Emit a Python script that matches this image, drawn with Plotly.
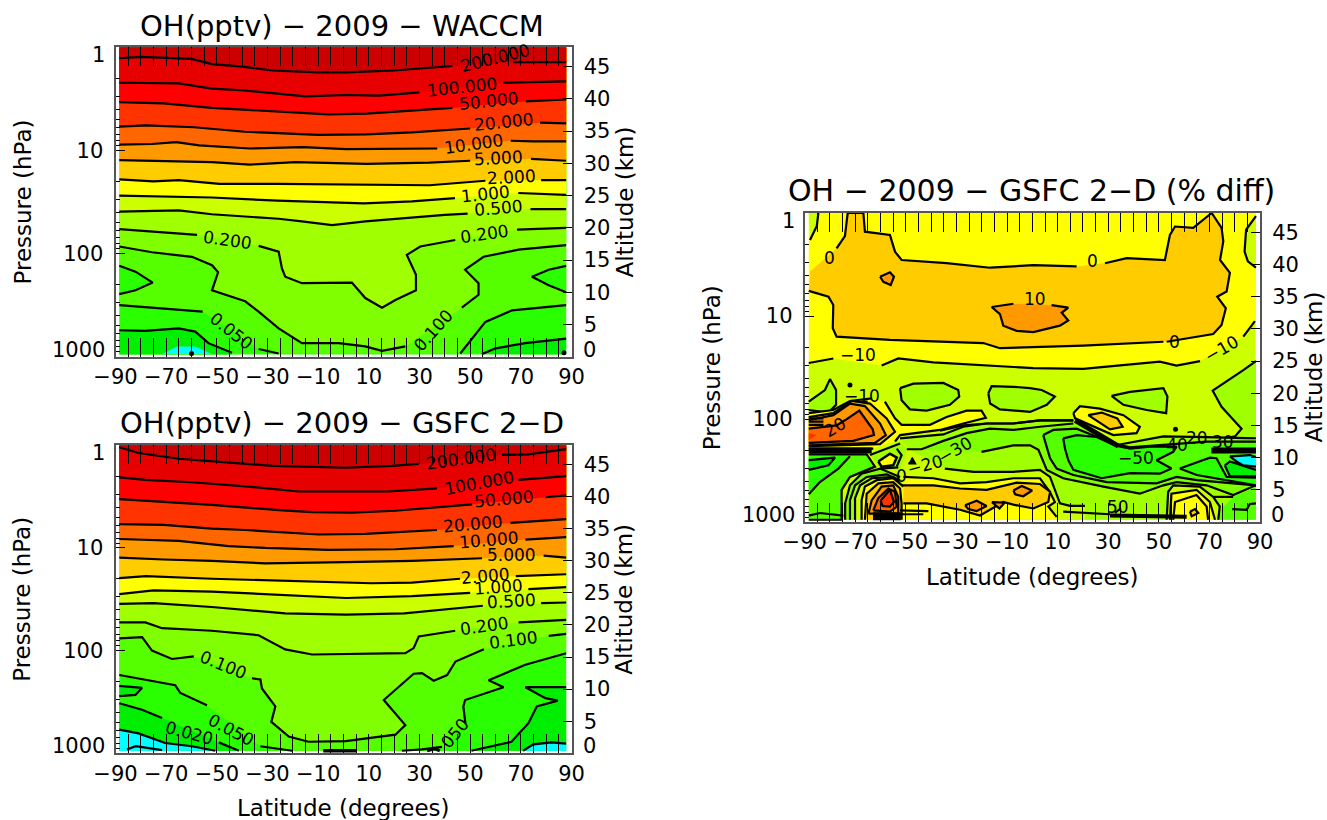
import plotly.graph_objects as go

W, H = 1327, 820
# ---------- isolines: (latitude, altitude km); None = gap for a label ----------
W_200 = [(-88.5,46.3),(-80,46.5),(-60,46.2),(-51.9,45.4),(-40,45),(-28,44.4),(-10,44.1),(1,44.1),(20,44.4),(43,45.1),None,(67,45.7),(87.9,45.7)]
W_100 = [(-88.5,42.5),(-65,42.4),(-52,41.6),(-39,41.3),(-26,40.8),(-15,40.4),(1,40.6),(14,40.5),(30,41),None,(63,42.5),(80,42.6),(87.9,42.7)]
W_50 = [(-88.5,39.5),(-71,39.3),(-52,38.6),(-39,38.3),(-19,37.9),(-6,37.6),(9,37.7),(27,38.2),(43,38.6),None,(72,39.6),(80,39.8),(87.9,39.9)]
W_20 = [(-88.5,35.7),(-78,35.9),(-59,35.6),(-39,34.9),(-10,34.4),(9,34.5),(27,34.8),(50,35.4),None,(77.6,36.3),(87.9,36.2)]
W_10 = [(-88.5,32.9),(-75.6,33),(-66,33.3),(-57,32.8),(-37,32.3),(-26,32.4),(-16,32.5),(1,32.2),(22,32.2),(37,32.3),None,(66,33.5),(75,33.4),(87.9,33.4)]
W_5 = [(-88.5,30.5),(-71,30.4),(-52,30.2),(-37,29.8),(-19,30.2),(9,29.9),(34,30.1),(50,30.4),None,(74,30.7),(87.9,30.4)]
W_2 = [(-88.5,27.5),(-75,27.2),(-65,27.4),(-49,26.8),(-26,26.8),(8,26.7),(34,26.6),(56,27.3),None,(78,27.4),(87.9,27.4)]
W_1 = [(-88.5,25),(-70,24.9),(-52,24.7),(-26,24.2),(8,23.8),(27,24.1),(44,24.6),None,(69,25.4),(87.9,25.1)]
W_05 = [(-88.5,22.5),(-75.6,22.6),(-65,22.7),(-52,22.1),(-38.8,21.7),(-25.6,21.4),(-16.4,21),(-4.5,20.4),(8.6,21),(27,21.6),(40,22),(49,22.2),None,(73.8,22.9),(87.9,22.9)]
W_02 = [(-88.5,19.8),(-75.6,19.4),(-57.8,18.9),None,(-33.5,17.2),(-25.6,16.3),(-24.3,13.7),(-23,12.4),(-16.4,11.4),(-5.9,11.4),(3.3,11.5),(8.6,9.1),(15.2,7.6),(20.5,8.8),(28.6,10.3),(28.6,12.7),(25,15.8),(30.3,17.1),(44.1,18.1),None,(68.5,19.7),(87.9,20)]
W_01 = [(-88.5,17.1),(-75.6,16.2),(-59.8,15.5),(-51.9,14.2),(-49.5,13.1),(-51.9,10.3),(-38.8,8.6),(-33.5,7),(-25.6,4.4),(-16.4,2.1),(-1.9,2.1),(8.6,1.6),(15.2,0.9),(24.4,1.6),None,(46.7,7.6),(53.3,9.6),(53.3,11.4),(48,13.5),(55.3,15.5),(69.1,16.6),(87.9,17.3)]
W_005 = [(-88.5,8),(-74,7.6),(-55.6,7),None,(-33.5,1.2),(-25.6,0.5),None,(46.1,0.5),(50.7,2.8),(56,5.4),(66.6,7.2),(87.9,8)]
W_BLOB_L = [(-88.5,14.1),(-82.1,13.2),(-75.3,11.5),(-82.1,10.3),(-88.5,9.7)]
W_BLOB_R = [(87.9,14.1),(81,13.5),(74.4,12.4),(81,11.1),(87.9,10)]
W_002_L = [(-88.5,4.1),(-78.3,4),(-65,4.4),(-58.5,3.9),(-53.3,2.1),(-44,0.6)]
W_002_R = [(54.6,0.4),(60,1.3),(71.7,2.1),(87.9,2.8)]
W_001 = [(-71.6,0.4),(-65.7,1.6),(-58.5,1.6),(-51.9,0.4)]
W_DOTS = [(-60,0.5),(87,0.6)]

G_200 = [(-88.5,47.7),(-80.9,46.8),(-65,45.9),(-45.3,45.3),(-28,44.8),(0.9,44.5),(19.2,44.8),(29.7,45.1),None,(62.6,46.5),(73,46.6),(87.9,47.4)]
G_100 = [(-88.5,43),(-78.2,42.6),(-58.5,42.2),(-38.8,41.6),(-17.7,40.8),(17.8,40.8),(36.9,41.3),None,(69.1,42.6),(87.9,43.2)]
G_50 = [(-88.5,39.6),(-71,39.2),(-52,38.7),(-25.6,37.9),(-12.4,37.6),(3.4,37.5),(20.5,37.8),(50.8,38.8),None,(79.8,39.9),(87.9,40.2)]
G_20 = [(-88.5,35.7),(-71,35.6),(-52,35),(-38.8,34.8),(-9.9,34.1),(8.6,34.2),(36.9,34.8),None,(65.9,35.9),(87.9,36.5)]
G_10 = [(-88.5,33.4),(-65,33.1),(-45.3,32.3),(-30.9,32),(-5.9,31.7),(20.5,31.8),(43.5,32.3),None,(71.8,33.3),(87.9,33.7)]
G_5 = [(-88.5,30.5),(-71,30.2),(-52,30),(-30.9,29.6),(0.8,29.8),(27.1,30),(54.7,30.4),None,(79,30.8),(87.9,30.5)]
G_2 = [(-88.5,27.3),(-78,27.6),(-52,27.2),(-26,26.9),(11,26.5),(27,26.6),(46,27.2),None,(68,27.6),(87.9,27.9)]
G_1 = [(-88.5,24.8),(-75,25.4),(-52,25.2),(-26,24.7),(1,24.2),(27,24.5),(50,25),None,(73,25.6),(87.9,25.9)]
G_05 = [(-88.5,23.3),(-75,23.4),(-52,22.8),(-23,21.8),(1,21.6),(24,21.8),(55,23),None,(78,23.4),(87.9,23.5)]
G_02 = [(-88.5,20.4),(-78.2,20.4),(-71.6,19.5),(-52,19.1),(-33.5,18.4),(-23,16.2),(-12.4,15.4),(24.4,15.6),(27.7,16.4),(29.7,18.2),(44.1,19.1),None,(69.1,20.4),(87.9,20.8)]
G_01 = [(-88.5,17.9),(-79.5,18.1),(-75.6,16),(-67.7,14.7),(-59.1,15.1),None,(-36.1,11.7),(-32.8,11.5),(-32.2,10.1),(-26.9,7.3),(-28.5,4.9),(-21.6,2.6),(-13.8,1.8),(0.8,1.9),(20.5,2.9),(24.4,4.4),(15.9,8.3),(27.7,12.4),(31,12.5),(35.6,11.3),(40.9,12.2),(44.2,14.3),(55.4,16.2),None,(81,18.3),(87.9,18.6)]
G_005 = [(-88.5,12.2),(-78.2,11.4),(-66.4,10.6),(-64.4,9.4),(-53.9,7.5),None,(-32.8,1.1),(-20.3,0.4),None,(23,0.4),(31,0.6),(38.9,1),None,(48.1,4.7),(47.3,7.3),(48,8.3),(63.2,10.3),(57.3,11.4),(71.8,13.8),(87.9,15.6)]
G_BLOB = [(-88.5,10.5),(-79.5,10.2),(-82.1,9.1),(-88.5,8.9)]
G_002_L = [(-88.5,7.8),(-79.5,6.8),(-71.6,5.5),None,(-49.2,1.7),(-41.3,0.4)]
G_002_R = [(87.9,10.3),(71.8,10.3),(79.7,8.6),(84.6,8.2),(76.3,7.3),(73,4.7),(66.3,1.8),(50.5,0.4)]
G_001_L = [(-88.5,3.7),(-80.9,3.1),(-70.4,1.6),(-59.9,1.1),(-50.6,0.4)]
G_001_R = [(70.9,0.4),(74.9,1.4),(82.2,1.7),(87.9,1.5)]
G_INNER = [(-85.5,0.6),(-82,1.1),(-71.6,0.5)]
G_FLOOR = [(-8,0.4),(5,0.4)]
G_FLOOR2 = [(33,0.4),(36,0.7),(38,0.4)]

D_0 = [(-87.9,38.9),None,(-77.4,42.5),(-74.1,44.4),(-73,48),(-66.8,48),(-66.2,45.1),(-56.3,44.6),(-54.3,42),(-51.7,40.7),(-33.9,40.2),(-16.7,39.5),(0.4,39.9),(17.5,39.7),None,(28.7,40.2),(37.3,41),(52.4,40.7),(54.4,44.6),(56.4,45.9),(63.6,45.7),(70.9,48),(74.8,45.7),(75.5,43.6),(74.2,40.7),(78.1,38.7),(76.8,35.8),(73.1,35),(76.5,33.2),(74.8,30.6),(71.5,29.2),(53.1,28),None,(51.8,28),(20.1,27.4),(-12.8,27),(-19.4,27.8),(-56.3,28.3),(-77.4,28.8),(-78.9,30.1),(-78.7,33.7),(-80.6,35),(-88.4,35.9)]
D_10 = [(-16.1,33.4),(-7.5,33.9),None,(7.6,33.7),(14.2,33.3),(11.6,32.5),(14.2,31.3),(10.9,30.5),(0.4,29.5),(-6.2,29.7),(-11.5,30.5),(-12.8,32.3),(-16.1,33.4)]
D_SMALL = [(-60.2,38.1),(-56.3,38.8),(-54.7,38.1),(-56,36.8),(-58.9,37.3),(-60.2,38.1)]
D_M10 = [(-88.4,24.7),(-78.7,25.4),None,(-59.6,24.3),(-53,25.4),(-39.1,24.8),(-26,24.5),(0.4,23.9),(20.1,23.8),(50.4,24.9),(57,24.3),(66.3,25),None,(83.4,28.8),(88,31.2)]
D_CORNER_L = [(-84.6,48),(-85.2,46),(-87.9,43.8)]
D_CORNER_R = [(88.4,47.5),(84.5,45.4),(83.9,42),(85.2,40.5),(88.4,39.5)]
D_A = [(-52.3,20.8),(-47,21.5),(-35.2,21.6),(-29.3,20.5),(-28.9,19.5),(-32.6,18.2),(-41.8,17.3),(-48.4,17.5),(-51.7,18.9),(-52.3,20.8)]
D_B = [(-17.4,20),(-16.1,21.1),(-7.5,21),(-0.9,20.8),(3.7,20.5),(8.9,19.5),(5.7,18.2),(-0.9,17.1),(-12.8,17.5),(-16.7,18.4),(-17.4,20)]
D_C = [(31.3,19.6),(38.6,20.2),(51.8,20.8),(53.4,19.5),(52.9,16.9),(45.2,17.4),(36,18.2),(31.3,19.6)]
D_D = [(88.4,25),(83.4,23.6),(71.3,20.4),(74.8,17.9),(82.7,14.5),(80.1,13.3),(70.2,12.5)]
D_LEFT = [(-88.4,18.7),(-82,20.5),(-80,22.2),(-77.6,20.5),(-77.6,18.2),(-80.6,17),(-88.4,17.4)]
D_LOBE = [(-58.3,18.7),(-54.3,16.1),(-51.7,15.1),(-40.5,15.1),(-33.9,16.3),(-26,17.3),(-20.1,17.3),(-18.4,16.2),(-27.3,15.3),(-36.5,14.3),(-52.3,13.5),(-54.3,12.5),None,(-62.9,11.4),(-88.4,11.4),None,(-88.4,16.9),(-78.7,17.4),(-72.1,18.8),(-63.5,19.2)]
D_M1 = [(-52.3,13),(-35.2,13.6),(-27.3,14.8),(-18.1,15.3),(-7.5,15.3),(3,15.8),(16.2,15.8),None,(34,12),(51.8,13.3),(68.9,13.2),(88.4,13)]
D_M1_CLOSE = [(88.4,0.35),(9.6,0.35),(5,5),(-34.6,8.3),(-48.4,11.2)]
D_M1B = [(-49.7,11.3),(-43.8,11.3),(-35.2,12.6),(-26,13.8),(-16.8,14.5),(-7.5,14.3),(3,14.8),(16.2,15.3),None,(34.6,11.8),None,(88.4,12.8),None,(88.4,5.7),(79.4,4.2),(68.9,5.7),(57,6.2),(51.8,5.7),(42.5,4.4),(28.1,5.5),(12.2,6.8),(5.7,8.1),(2.4,11.2),(-0.9,11.9),(-7.5,11.9),(-20.1,10.9)]
D_B2 = [(4.3,13.5),(8.3,14.3),(17.5,14.5),(32,12.2),(38.6,11.6),(68.9,12.5),(88.4,12.5),None,(88.4,5.7),(65,6.5),(57,7),(49.1,6),(29.4,6.2),(16.2,7.3),(9.6,8.3),(7,9.9),(4.3,13.5)]
D_C2 = [(12.2,13),(17.5,13.5),(25.4,13.2),(32.6,11.9),(38.6,11.4),(46.5,11.7),(57,11.7),(55.7,10.9),(49.1,9.6),(55,8.3),(50.4,7.5),(38.6,7.6),(27.4,6.8),(16.2,8.1),(14.2,9.6),(12.9,11.4),(12.2,13)]
D_E = [(58.3,8.3),(70.2,10),(72.8,9.9),(76.8,7),(88.4,6.9),None,(88.4,5.7),(72.8,6.8),(65,7.3),(58.3,8.3)]
D_DARK = [(76.1,8.8),(78.1,9.4),(88.4,8.1),None,(88.4,7.1),(78.1,7.1),(76.1,8.8)]
D_CYAN = [(78.1,10.2),(86,10.4),(88.4,10.1),None,(88.4,8.6),(83.4,8.8),(80.7,9.4),(78.1,10.2)]
D_EL_Y = [(16.2,16.9),(18.8,18),(26.7,17.6),(36,16.6),(42.5,14.8),(41.2,13.8),(32,13.5),(22.8,15.1),(16.9,16.1),(16.2,16.9)]
D_EL_O = [(22.1,16.6),(27.4,17),(33.6,16.1),(35.7,14.8),(30.7,14.4),(22.1,16.6)]
D_HATCH = [(16.9,15.8),(34,11.8)]
D_T1B = [(-36.5,14.2),(-27.3,15),(-18.1,15.3),(-7.5,15.3),(3,15.8),(16.2,15.8)]
D_GR = [(79.4,3.9),(88.4,5.5),(88.4,0.35),(72.8,0.35),(75.5,2.4),(79.4,3.9)]
D_S1 = [(-34.6,8.3),(-23.2,7.8),(-7.5,7.8),(3,8.1),(7,7),(10.9,2.9),(14.9,2.5),(20.8,2.5)]
D_S1_CLOSE = [(20.8,0.35),(-52.3,0.35),(-52.3,7.5)]
D_S2 = [(-51,7),(-39.1,6.8),(-28.6,6),(-18.1,6.2),(-7.5,6.8),(3,6.8),(6.9,4.7),(8.9,3.1),(6.3,2.4),(9.6,0.8)]
D_S2_CLOSE = [(9.6,0.35),(-52.3,0.35)]
D_OR = [(-52.3,5.7),(-39.1,5.7),(-28.6,5.2),(-18.1,5),(-6.2,6.1),(3,5.9),(3.7,5.7),(7,4.7),(6.3,3.1),(0.4,2.1),(-7.5,2.7),(-11.5,3.1),(-20.7,1),(-28.6,1.9),(-41.8,2.9),(-52.3,2.9)]
D_OR_1 = [(-7.5,4.9),(-4.2,5.6),(-0.1,4.9),(-3.6,4),(-6.8,4.3),(-7.5,4.9)]
D_OR_2 = [(-26.6,2.6),(-22,3.3),(-18.1,2.5),(-22,1.7),(-25.3,2),(-26.6,2.6)]
D_OR_3 = [(-16,3.1),(-11,3),(-13,2.1),(-16,3.1)]
D_R0 = [(-88.4,10.5),(-65.5,10.5),(-62.2,8.6),(-72.1,7),(-75.4,5),(-75.4,1.9),(-75.4,0.35),(-88.4,0.35)]
D_R1 = [(-72.1,10.2),(-76.7,8.3),(-84,6.2),(-88.4,4.3),None,(-88.4,10.2)]
D_R1D = [(-88.4,9.6),(-78,10),(-80.6,8.8),(-88.4,8.1)]
D_R2 = [(-74,0.35),(-74,2.9),(-72.1,5.7),(-67.5,7.5),(-60.2,8.3),(-52.3,7),None,(-52.3,0.35)]
D_R3 = [(-72.1,0.35),(-72.1,3.4),(-70.1,5.7),(-65.5,7),(-57.6,7.4),(-52.3,6.5),None,(-52.3,0.35)]
D_R4 = [(-70.1,0.35),(-70.1,3.7),(-68.1,5.7),(-63.5,6.8),(-55,7),(-51.7,5.7),None,(-51.7,0.35)]
D_R5 = [(-67.5,0.35),(-67.5,3.4),(-66.2,5.5),(-61.5,6.5),(-55,6.8),(-51,5.5),None,(-51,0.35)]
D_R6 = [(-66.2,0.35),(-65.5,4.4),(-60.9,6),(-55,6.2),(-52.3,5.2),(-51.7,2.9),(-51.7,0.35)]
D_R7 = [(-64.8,1.3),(-63.5,3.4),(-59.6,5.5),(-55,5.7),(-53,3.9),(-53,1.3),(-64.8,1.3)]
D_R8 = [(-62.9,1.8),(-60.9,3.7),(-56.9,5.2),(-54.3,4.7),(-53.6,2.4),(-56.3,1.6),(-62.9,1.8)]
D_R9 = [(-60,3.3),(-56.3,5),(-54.7,3.1),(-56.3,2.4),(-59.2,2.5),(-60,3.3)]
D_PATCH = [(-64.2,10.5),(-52.3,12.5),(-49.7,11.3),(-52.3,8),(-60.2,8.3)]
D_DIAMOND = [(-60.9,9.4),(-56.3,10.6),(-53.6,10),(-55,8.8),(-59.6,8.6),(-60.9,9.4)]
D_BAND_L = [(-88.4,11.1),(-63.5,11.1)]
D_BAND_R = [(70.8,11.1),(88.4,11.1)]
D_DASH = [[(-88.4,16.1),(-82.6,16.1)],[(-88.4,15.6),(-82.6,15.6)],[(-88.4,15.1),(-82.6,15.1)],[(-52.3,1.8),(-41.1,1.7)],[(-52.3,1.2),(-43.1,1.2)],[(-88.4,1),(-84,1.4),(-74.7,1)],[(12.2,1.6),(30.7,1.2)],[(-53.6,11.4),(-51.7,10.4),(-53.6,8.6)],[(-64.2,10.4),(-52.3,12.2)],[(-60.2,8.3),(-53,8.5)],[(79,2),(84.7,1.9),(86,2.8),(88.4,2.9)],[(71.5,3.9),(79.4,3.9)],[(32.6,1.4),(35,2.1)]]
D_BOX0 = [(53.1,0.35),(53.7,4.7),(55.7,5.7),(66.2,5.5),(71.5,3.9),(74.1,2.4),(73.5,0.35)]
D_BOX1 = [(54.4,0.35),(55,4.4),(64.9,5),(70.2,3.1),(72.2,0.35)]
D_BOX2 = [(55.7,0.35),(56.4,3.1),(64.9,4.2),(68.9,2.4),(69.5,0.35)]
D_BOX3 = [(62.3,1.6),(64.3,2),(65.6,1.4),(63,0.9),(62.3,1.6)]
D_THICK = [(30.7,1),(61,0.8)]
D_FLOOR = [(-63,0.9),(-52,0.9)]
D_TRI = [(-49,9.1),(-46.4,9.1),(-47.7,10)]
D_DOTS = [(-72.1,21.3),(56.6,14.4)]
D_TONGUE_O3 = [(-88.4,16.3),(-78.7,16.9),(-71.4,18.8),(-64.2,18.4),(-57.6,16.1),(-54.3,14),(-60.2,12.1),(-88.4,11.8)]
D_TONGUE_O2 = [(-88.4,15.8),(-78.7,16.6),(-72.1,18.4),(-66.2,18),(-60.2,15.3),(-57.9,13.5),(-62.2,12.3),(-88.4,11.9)]
D_TONGUE_O1 = [(-88.4,14.5),(-77.4,15),(-74.1,15.8),(-68.4,17.3),(-63.1,14.4),(-62.6,13.5),(-70.8,12.6),(-88.4,12.3)]
D_TONGUE_R3 = [(-88.4,13.8),(-85.3,13.5),(-88.4,12.7)]

# contour labels: (text, latitude, altitude km, angle)
W_LABELS = [("200.000",59.9,46.3,-14),("100.000",46.8,41.8,-6),("50.000",57.3,39.6,-6),("20.000",63.2,36.4,-6),("10.000",51.4,33,-8),("5.000",61,30.9,-3),("2.000",66.5,27.9,-3),("1.000",56.2,25.3,-6),("0.500",61,23.1,-5),("0.200",-45.7,18.1,8),("0.200",55.7,19.1,-8),("0.100",35.6,4.1,-48),("0.050",-44.3,4,38)]
G_LABELS = [("200.000",46.5,45.8,-8),("100.000",53.4,42.2,-10),("50.000",63.2,39.7,-5),("20.000",51,35.8,-5),("10.000",57.3,33.3,-5),("5.000",66.2,30.9,0),("2.000",56,27.6,-5),("1.000",61.2,25.9,-4),("0.500",66.2,23.8,-3),("0.200",55.7,19.8,-8),("0.100",67.2,17.7,-7),("0.100",-47.3,13.8,22),("0.050",-44.3,3.7,28),("0.020",-60.9,3.2,15),("050",44.1,3.1,-50)]
D_LABELS = [("0",-80.3,41,0),("0",23.6,40.6,0),("10",1,34.6,0),("0",56,27.9,0),("−10",-68.8,25.9,0),("−10",74.8,26.8,-30),("−10",-67.5,19.6,0),("20",-78,14.8,-30),("−20",-42.4,8.9,-15),("−30",-30.6,11.2,-30),("0",-51.7,7.1,0),("−40",54.4,12,0),("−50",41,10,0),("20",65,13,0),("30",75.5,12.5,0),("50",34,2.4,0)]

LAT_TICKS = list(range(-90, 91, 10))
LAT_TEXT = [("−" if v < 0 else "") + str(abs(v)) if (v + 90) % 20 == 0 else "" for v in LAT_TICKS]
ALT_TICKS = [5,10,15,20,25,30,35,40,45]
P_MAJOR = [1,10,100,1000]
P_MINOR = [m*d for d in (1,10,100) for m in range(2,10)]

C = {"dr":"#cc0000","r1":"#e60000","r2":"#ff0000","r3":"#ff3300","o1":"#ff6600","o2":"#ff9900","o3":"#ffcc00","y":"#ffff00",
     "l1":"#ccff00","l2":"#a0ff00","g1":"#80ff00","g2":"#55ff00","g3":"#2aff00","g4":"#00ee00","c":"#00ffff"}
FONT = "DejaVu Sans"

fig = go.Figure()
layout = {}
def px_x(a): return a/W
def px_y(b): return 1-b/H
def alt(n): return f"y{2*n-1}"
def prs(n): return f"y{2*n}"

PANELS = [
    dict(n=1, x0=115.5,x1=571.5,y0=47.3,y1=356.7,title="OH(pptv) − 2009 − WACCM",tx=342,ty=26,ts=29,xtitle=False),
    dict(n=2, x0=115.5,x1=571.5,y0=445.3,y1=753.3,title="OH(pptv) − 2009 − GSFC 2−D",tx=342,ty=423,ts=29,xtitle=True),
    dict(n=3, x0=804.7,x1=1260,y0=213,y1=522,title="OH − 2009 − GSFC 2−D (% diff)",tx=1031,ty=190,ts=30,xtitle=True),
]
anns = []
AF = dict(family=FONT,size=23,color="black")
TF = dict(family=FONT,size=21,color="black")
CM = dict(xanchor="center", yanchor="middle", showarrow=False)
TICK = dict(tickcolor="black", tickwidth=1.2)
for p in PANELS:
    n = p["n"]; xn = f"xaxis{n}"; ya = f"yaxis{2*n-1}"; yp = f"yaxis{2*n}"
    xdom = [px_x(p["x0"]), px_x(p["x1"])]
    ymid = (p["y0"]+p["y1"])/2
    layout[xn] = dict(domain=xdom, range=[-90,90], anchor=alt(n), tickmode="array", tickvals=LAT_TICKS, ticktext=LAT_TEXT,
        ticks="inside", ticklen=19, mirror="allticks", showline=True, linecolor="#555", linewidth=2,
        showgrid=False, zeroline=False, tickfont=TF, tickangle=0, automargin=False,
        minor=dict(tick0=-90, dtick=5, ticks="inside", ticklen=10, showgrid=False, **TICK), **TICK)
    layout[ya] = dict(domain=[px_y(p["y1"]), px_y(p["y0"])], range=[0,48], anchor=f"x{n}", side="right", tickmode="array",
        tickvals=ALT_TICKS, ticks="inside", ticklen=9, showline=True, linecolor="#555", linewidth=2,
        showgrid=False, zeroline=False, tickfont=TF, ticklabelstandoff=6, automargin=False, **TICK)
    layout[yp] = dict(domain=[px_y(p["y1"]), px_y(p["y0"])], type="log", range=[3,0], anchor=f"x{n}", side="left", tickmode="array",
        tickvals=P_MAJOR, ticktext=["","10","100",""], ticks="inside", ticklen=9, showline=True, linecolor="#555", linewidth=2,
        showgrid=False, zeroline=False, tickfont=TF, ticklabelstandoff=6, automargin=False,
        minor=dict(tickmode="array", tickvals=P_MINOR, ticks="inside", ticklen=4, showgrid=False, **TICK), **TICK)
    anns.append(dict(text=p["title"], x=px_x(p["tx"]), y=px_y(p["ty"]), xref="paper", yref="paper", font=dict(family=FONT,size=p["ts"],color="black"), **CM))
    anns.append(dict(text="Pressure (hPa)", x=px_x(p["x0"]-93), y=px_y(ymid), xref="paper", yref="paper", textangle=-90, font=AF, **CM))
    anns.append(dict(text="Altitude (km)", x=px_x(p["x1"]+53), y=px_y(ymid), xref="paper", yref="paper", textangle=-90, font=AF, **CM))
    if p["xtitle"]:
        anns.append(dict(text="Latitude (degrees)", x=px_x((p["x0"]+p["x1"])/2), y=px_y(p["y1"]+55), xref="paper", yref="paper", font=AF, **CM))
    anns.append(dict(text="1", x=px_x(p["x0"]-8), y=46.8, xref="paper", yref=alt(n), xanchor="right", yanchor="middle", showarrow=False, font=TF))
    anns.append(dict(text="1000", x=px_x(p["x0"]-8), y=1.1, xref="paper", yref=alt(n), xanchor="right", yanchor="middle", showarrow=False, font=TF))
    anns.append(dict(text="0", x=px_x(p["x1"]+9), y=1.1, xref="paper", yref=alt(n), xanchor="left", yanchor="middle", showarrow=False, font=TF))

def draw(n, pts, fill=None, close=(), line=True, lw=2.2):
    xa, ya = f"x{n}", alt(n)
    if fill:
        solid = [q for q in pts if q is not None] + list(close)
        fig.add_trace(go.Scatter(x=[q[0] for q in solid], y=[q[1] for q in solid], mode="lines", fill="toself", fillcolor=fill,
            line=dict(width=0, color=fill), xaxis=xa, yaxis=ya, showlegend=False, hoverinfo="skip"))
    if line:
        fig.add_trace(go.Scatter(x=[q[0] if q else None for q in pts], y=[q[1] if q else None for q in pts], mode="lines",
            line=dict(width=lw, color="black"), xaxis=xa, yaxis=ya, showlegend=False, hoverinfo="skip", connectgaps=False))

def rect(n, l, r, color):
    draw(n, [(l,0.36),(r,0.36),(r,48),(l,48)], fill=color, line=False)

def dots(n, pts):
    fig.add_trace(go.Scatter(x=[q[0] for q in pts], y=[q[1] for q in pts], mode="markers", marker=dict(size=5,color="black"),
        xaxis=f"x{n}", yaxis=alt(n), showlegend=False, hoverinfo="skip"))

# ---------- panel 1 ----------
L, R = -88.5, 87.9
TOP = [(R,48),(L,48)]
rect(1, L, R, C["g3"])
for pts, col in [(W_005,C["g2"]),(W_01,C["g1"]),(W_02,C["l2"]),(W_05,C["l1"]),(W_1,C["y"]),(W_2,C["o3"]),(W_5,C["o2"]),(W_10,C["o1"]),(W_20,C["r3"]),(W_50,C["r2"]),(W_100,C["r1"]),(W_200,C["dr"])]:
    draw(1, pts, fill=col, close=TOP)
draw(1, W_BLOB_L, fill=C["g3"]); draw(1, W_BLOB_R, fill=C["g3"])
draw(1, W_002_L, fill=C["g4"], close=[(-44,0.36),(L,0.36)])
draw(1, W_002_R, fill=C["g4"], close=[(R,0.36)])
draw(1, W_001, fill=C["c"], line=False)
dots(1, W_DOTS)

# ---------- panel 2 ----------
rect(2, L, R, C["g3"])
for pts, col in [(G_005,C["g2"]),(G_01,C["g1"]),(G_02,C["l2"]),(G_05,C["l1"]),(G_1,C["y"]),(G_2,C["o3"]),(G_5,C["o2"]),(G_10,C["o1"]),(G_20,C["r3"]),(G_50,C["r2"]),(G_100,C["r1"]),(G_200,C["dr"])]:
    draw(2, pts, fill=col, close=TOP)
draw(2, G_BLOB, fill=C["g4"])
draw(2, G_002_L, fill=C["g4"], close=[(-41.3,0.36),(L,0.36)])
draw(2, G_002_R, fill=C["g4"], close=[(R,0.36)])
draw(2, G_001_L, fill=C["c"], close=[(L,0.36)])
draw(2, G_001_R, fill=C["c"], close=[(R,0.36)])
draw(2, G_INNER); draw(2, G_FLOOR, lw=3.5); draw(2, G_FLOOR2, lw=3)

# ---------- panel 3 ----------
LD, RD = -88.4, 88.4
rect(3, LD, RD, C["y"])
draw(3, D_M10, fill=C["l1"], close=[(RD,0.36),(LD,0.36)])
draw(3, D_0, fill=C["o3"])
draw(3, D_10, fill=C["o2"]); draw(3, D_SMALL, fill=C["o2"])
draw(3, D_CORNER_L, fill=C["l1"], close=[(LD,48)]); draw(3, D_CORNER_R, fill=C["l1"])
for s in (D_A, D_B, D_C): draw(3, s, fill=C["l2"])
draw(3, D_D, fill=C["l2"], close=[(RD,13)])
draw(3, D_LEFT, fill=C["l2"])
draw(3, D_LOBE, fill=C["y"])
draw(3, D_M1, fill=C["l2"], close=D_M1_CLOSE)
draw(3, D_T1B)
draw(3, D_M1B, fill=C["g1"])
draw(3, D_GR, fill=C["g2"], line=False)
draw(3, D_B2, fill=C["g2"])
draw(3, D_C2, fill=C["g3"])
draw(3, D_E, fill=C["g3"]); draw(3, D_DARK, fill=C["g4"]); draw(3, D_CYAN, fill=C["c"])
draw(3, D_EL_Y, fill=C["y"]); draw(3, D_EL_O, fill=C["o3"])
draw(3, D_HATCH, lw=5)
draw(3, D_S1, fill=C["l1"], close=D_S1_CLOSE)
draw(3, D_S2, fill=C["y"], close=D_S2_CLOSE)
draw(3, D_OR, fill=C["o3"])
for s in (D_OR_1, D_OR_2, D_OR_3): draw(3, s, fill=C["o2"])
draw(3, D_BOX0, fill=C["l1"]); draw(3, D_BOX1, fill=C["y"]); draw(3, D_BOX2, fill=C["y"]); draw(3, D_BOX3, fill=C["o3"])
draw(3, D_R0, fill=C["g2"]); draw(3, D_R1, fill=C["g3"]); draw(3, D_R1D, fill=C["g4"])
draw(3, D_PATCH, fill=C["l2"], line=False)
for s, col in [(D_R2,C["g1"]),(D_R3,C["l2"]),(D_R4,C["l1"]),(D_R5,C["y"]),(D_R6,C["o3"]),(D_R7,C["o2"]),(D_R8,C["o1"]),(D_R9,C["r3"])]:
    draw(3, s, fill=col)
draw(3, D_DIAMOND, fill=C["y"], lw=2.5)
draw(3, D_TONGUE_O3, fill=C["o3"]); draw(3, D_TONGUE_O2, fill=C["o2"]); draw(3, D_TONGUE_O1, fill=C["o1"])
draw(3, D_TONGUE_R3, fill=C["r3"], line=False)
draw(3, D_BAND_L, lw=6); draw(3, D_BAND_R, lw=6)
draw(3, D_THICK, lw=4); draw(3, D_FLOOR, lw=8)
for s in D_DASH: draw(3, s)
draw(3, D_TRI, fill="black", close=[D_TRI[0]])
dots(3, D_DOTS)

# invisible traces that bind each pressure axis to its subplot, drawn above the altitude subplot
for p in PANELS:
    n = p["n"]
    fig.add_trace(go.Scatter(x=[0,0,0,0], y=P_MAJOR, mode="markers", marker=dict(opacity=0), xaxis=f"x{n}", yaxis=prs(n), showlegend=False, hoverinfo="skip"))

for n, labs in ((1,W_LABELS),(2,G_LABELS),(3,D_LABELS)):
    for t, la, km, ang in labs:
        anns.append(dict(text=t, x=la, y=km, xref=f"x{n}", yref=alt(n), textangle=ang,
                         font=dict(family=FONT,size=17,color="black"), **CM))

fig.update_layout(template=None, width=W, height=H, autosize=False, margin=dict(l=0,r=0,t=0,b=0), paper_bgcolor="white", plot_bgcolor="rgba(0,0,0,0)",
                  showlegend=False, annotations=anns, **layout)
fig.write_html("out.html", config=dict(displayModeBar=False), post_script="document.body.style.margin='0';document.body.style.overflow='hidden';")
